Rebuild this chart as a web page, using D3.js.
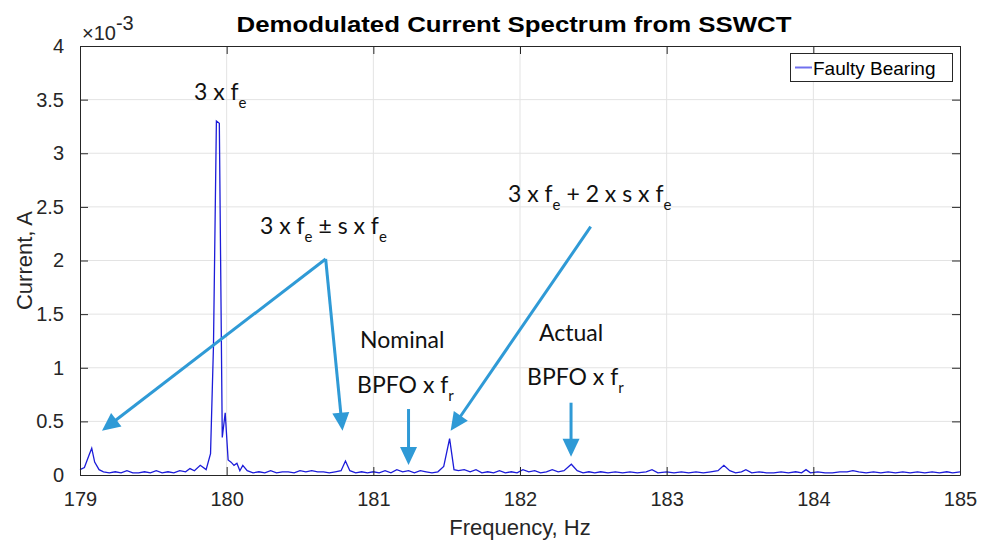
<!DOCTYPE html>
<html>
<head>
<meta charset="utf-8">
<script src="https://cdn.jsdelivr.net/npm/d3@7"></script>
<style>
  body { margin: 0; background: #fff; }
  text { font-family: "Liberation Sans", Arial, sans-serif; }
  .note { font-family: Lato, "Open Sans", sans-serif; }
</style>
</head>
<body>
<div id="root"></div>
<script>
// spectrum, current in units of 1e-3 A
var freq = [179.00, 179.03, 179.06, 179.08, 179.10, 179.13, 179.16, 179.20, 179.24, 179.28,
    179.32, 179.36, 179.40, 179.44, 179.48, 179.52, 179.56, 179.60, 179.64, 179.68,
    179.72, 179.75, 179.78, 179.82, 179.86, 179.89, 179.91, 179.93, 179.95, 179.97,
    179.99, 180.01, 180.03, 180.05, 180.07, 180.09, 180.11, 180.14, 180.18, 180.22,
    180.26, 180.30, 180.34, 180.38, 180.42, 180.46, 180.50, 180.54, 180.58, 180.62,
    180.66, 180.70, 180.74, 180.78, 180.81, 180.84, 180.88, 180.92, 180.96, 181.00,
    181.04, 181.08, 181.12, 181.16, 181.20, 181.24, 181.28, 181.32, 181.36, 181.40,
    181.44, 181.48, 181.52, 181.55, 181.58, 181.62, 181.66, 181.70, 181.74, 181.78,
    181.82, 181.86, 181.90, 181.94, 181.98, 182.02, 182.06, 182.10, 182.14, 182.18,
    182.22, 182.26, 182.30, 182.35, 182.39, 182.43, 182.47, 182.51, 182.55, 182.60,
    182.65, 182.70, 182.75, 182.80, 182.86, 182.90, 182.94, 183.00, 183.05, 183.10,
    183.15, 183.20, 183.25, 183.30, 183.35, 183.39, 183.43, 183.47, 183.51, 183.54,
    183.58, 183.63, 183.68, 183.73, 183.78, 183.83, 183.88, 183.92, 183.95, 183.98,
    184.03, 184.08, 184.13, 184.18, 184.23, 184.27, 184.31, 184.36, 184.41, 184.46,
    184.51, 184.56, 184.61, 184.66, 184.71, 184.76, 184.81, 184.86, 184.91, 184.95,
    185.00];
var current = [0.05, 0.07, 0.18, 0.25, 0.12, 0.05, 0.03, 0.02, 0.03, 0.02,
    0.04, 0.02, 0.02, 0.03, 0.02, 0.04, 0.02, 0.03, 0.02, 0.04,
    0.03, 0.06, 0.04, 0.09, 0.05, 0.20, 1.20, 3.30, 3.28, 0.35,
    0.58, 0.14, 0.12, 0.09, 0.11, 0.04, 0.09, 0.04, 0.02, 0.03,
    0.02, 0.04, 0.02, 0.03, 0.03, 0.02, 0.04, 0.03, 0.04, 0.03,
    0.03, 0.02, 0.03, 0.04, 0.13, 0.04, 0.02, 0.03, 0.02, 0.03,
    0.02, 0.04, 0.02, 0.05, 0.03, 0.04, 0.02, 0.04, 0.03, 0.02,
    0.03, 0.08, 0.34, 0.05, 0.04, 0.05, 0.03, 0.05, 0.02, 0.03,
    0.02, 0.04, 0.02, 0.03, 0.02, 0.05, 0.03, 0.04, 0.02, 0.03,
    0.05, 0.03, 0.04, 0.10, 0.04, 0.02, 0.03, 0.02, 0.03, 0.02,
    0.03, 0.02, 0.03, 0.02, 0.03, 0.05, 0.02, 0.03, 0.02, 0.03,
    0.02, 0.03, 0.02, 0.03, 0.04, 0.09, 0.04, 0.02, 0.03, 0.05,
    0.02, 0.03, 0.02, 0.02, 0.03, 0.02, 0.03, 0.02, 0.05, 0.02,
    0.03, 0.02, 0.02, 0.03, 0.03, 0.04, 0.03, 0.02, 0.03, 0.02,
    0.03, 0.02, 0.03, 0.02, 0.03, 0.02, 0.03, 0.02, 0.03, 0.02,
    0.03];

var xTicks = [179, 180, 181, 182, 183, 184, 185];
var yTicks = [0, 0.5, 1, 1.5, 2, 2.5, 3, 3.5, 4];

// annotation texts, anchored in data units; [text, isSubscript]
var notes = [
    { f: 179.777, v: 3.50, parts: [["3 x f", 0], ["e", 1]] },
    { f: 180.227, v: 2.25, parts: [["3 x f", 0], ["e", 1], [" \u00b1 s x f", 0], ["e", 1]] },
    { f: 181.918, v: 2.545, parts: [["3 x f", 0], ["e", 1], [" + 2 x s x f", 0], ["e", 1]] },
    { f: 180.909, v: 1.18, parts: [["Nominal", 0]] },
    { f: 180.889, v: 0.76, parts: [["BPFO x f", 0], ["r", 1]] },
    { f: 182.13, v: 1.25, parts: [["Actual", 0]] },
    { f: 182.048, v: 0.84, parts: [["BPFO x f", 0], ["r", 1]] }
];
// arrows: from -> tip, data units
var arrows = [
    [[180.675, 2.014], [179.15, 0.413]],
    [[180.675, 2.014], [180.79, 0.413]],
    [[182.482, 2.315], [181.527, 0.413]],
    [[181.24, 0.615], [181.24, 0.093]],
    [[182.348, 0.674], [182.348, 0.171]]
];

var W = 981, H = 542;
var m = { left: 80, right: 21, top: 46, bottom: 67 };
var iw = W - m.left - m.right, ih = H - m.top - m.bottom;

var svg = d3.select("#root").append("svg")
    .attr("width", W).attr("height", H);
svg.append("rect").attr("width", W).attr("height", H).attr("fill", "#fff");

var x = d3.scaleLinear().domain([179, 185]).range([m.left, m.left + iw]);
var y = d3.scaleLinear().domain([0, 4]).range([m.top + ih, m.top]);

// grid
var grid = svg.append("g").attr("stroke", "#e3e3e3").attr("stroke-width", 1);
grid.selectAll(".gx").data(xTicks.slice(1, -1)).enter().append("line")
    .attr("x1", d => x(d)).attr("x2", d => x(d))
    .attr("y1", m.top).attr("y2", m.top + ih);
grid.selectAll(".gy").data(yTicks.slice(1, -1)).enter().append("line")
    .attr("x1", m.left).attr("x2", m.left + iw)
    .attr("y1", d => y(d)).attr("y2", d => y(d));

// spectrum
var line = d3.line().x((d, i) => x(freq[i])).y(d => y(d));
svg.append("path")
    .datum(current)
    .attr("fill", "none")
    .attr("stroke", "#1c1cd9")
    .attr("stroke-width", 1.3)
    .attr("d", line);

// axes, matlab style: ticks inward, box on
var tl = 8;
function style(g, size) {
    g.select(".domain").attr("stroke", "#262626");
    g.selectAll(".tick line").attr("stroke", "#262626");
    g.selectAll(".tick text").attr("fill", "#262626")
        .style("font-size", size + "px").style("font-family", "'Liberation Sans', Arial, sans-serif");
}
var xb = svg.append("g").attr("transform", "translate(0," + (m.top + ih) + ")")
    .call(d3.axisBottom(x).tickValues(xTicks).tickSizeInner(-tl).tickSizeOuter(0).tickPadding(17).tickFormat(d3.format("d")));
style(xb, 20);
var xt = svg.append("g").attr("transform", "translate(0," + m.top + ")")
    .call(d3.axisTop(x).tickValues(xTicks).tickSizeInner(-tl).tickSizeOuter(0).tickFormat(""));
style(xt, 20);
var yl = svg.append("g").attr("transform", "translate(" + m.left + ",0)")
    .call(d3.axisLeft(y).tickValues(yTicks).tickSizeInner(-tl).tickSizeOuter(0).tickPadding(16).tickFormat(d3.format("")));
style(yl, 20);
var yr = svg.append("g").attr("transform", "translate(" + (m.left + iw) + ",0)")
    .call(d3.axisRight(y).tickValues(yTicks).tickSizeInner(-tl).tickSizeOuter(0).tickFormat(""));
style(yr, 20);

// exponent
var ex = svg.append("text").attr("x", m.left + 2).attr("y", 40)
    .attr("fill", "#262626").style("font-size", "20px");
ex.append("tspan").text("\u00d710");
ex.append("tspan").attr("dy", -10).text("-3");

// title and axis labels
svg.append("text").attr("x", 514).attr("y", 32).attr("text-anchor", "middle")
    .attr("textLength", 555).attr("lengthAdjust", "spacingAndGlyphs")
    .style("font-size", "22px").style("font-weight", "bold").attr("fill", "#000")
    .text("Demodulated Current Spectrum from SSWCT");
svg.append("text").attr("x", (m.left + m.left + iw) / 2).attr("y", 535).attr("text-anchor", "middle")
    .style("font-size", "22px").attr("fill", "#262626").text("Frequency, Hz");
svg.append("text").attr("transform", "translate(32," + (m.top + ih / 2) + ") rotate(-90)")
    .attr("text-anchor", "middle").style("font-size", "22px").attr("fill", "#262626").text("Current, A");

// legend
var lg = svg.append("g");
lg.append("rect").attr("x", 790.5).attr("y", 53.5).attr("width", 162).attr("height", 28)
    .attr("fill", "#fff").attr("stroke", "#262626").attr("stroke-width", 1);
lg.append("line").attr("x1", 795).attr("x2", 812).attr("y1", 67.5).attr("y2", 67.5)
    .attr("stroke", "#7070ee").attr("stroke-width", 2);
lg.append("text").attr("x", 813).attr("y", 74.5).style("font-size", "19px").attr("fill", "#000")
    .text("Faulty Bearing");

// annotation arrows
var blue = "#2f9ad6";
var ag = svg.append("g");
arrows.forEach(function (a) {
    var x0 = x(a[0][0]), y0 = y(a[0][1]), x1 = x(a[1][0]), y1 = y(a[1][1]);
    var dx = x1 - x0, dy = y1 - y0, len = Math.sqrt(dx * dx + dy * dy);
    var ux = dx / len, uy = dy / len, L = 18, hw = 8.5;
    var bx = x1 - ux * L, by = y1 - uy * L;
    ag.append("line").attr("x1", x0).attr("y1", y0).attr("x2", bx + ux * 2).attr("y2", by + uy * 2)
        .attr("stroke", blue).attr("stroke-width", 3);
    ag.append("path")
        .attr("d", "M" + x1 + "," + y1 + "L" + (bx - uy * hw) + "," + (by + ux * hw) + "L" + (bx + uy * hw) + "," + (by - ux * hw) + "Z")
        .attr("fill", blue);
});

// annotation texts
notes.forEach(function (n) {
    var t = svg.append("text").attr("class", "note").attr("x", x(n.f)).attr("y", y(n.v))
        .attr("fill", "#111").style("font-size", "23px");
    var down = false;
    n.parts.forEach(function (p) {
        var s = t.append("tspan").text(p[0]);
        if (p[1]) { s.attr("dy", 8).style("font-size", "15px"); down = true; }
        else if (down) { s.attr("dy", -8); down = false; }
    });
});
</script>
</body>
</html>
